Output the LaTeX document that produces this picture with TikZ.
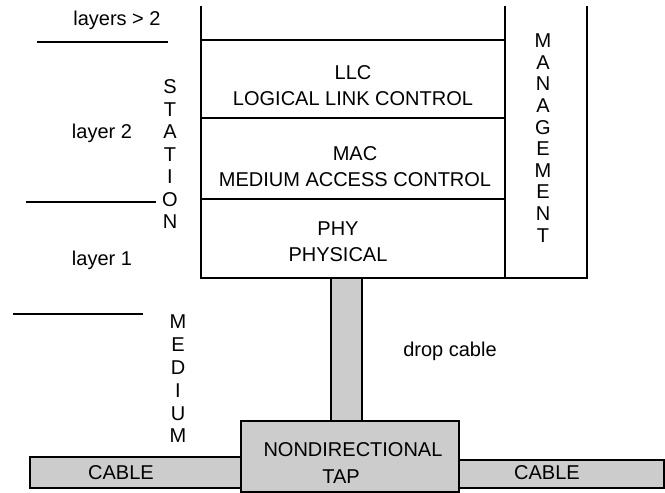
\documentclass[tikz,border=0pt]{standalone}
\usepackage{fontspec}
\setmainfont{Liberation Sans}
\definecolor{cablegray}{HTML}{CCCCCC}
\begin{document}
\begin{tikzpicture}[x=1pt,y=-1pt,
  every node/.style={inner sep=0pt, outer sep=0pt, font=\fontsize{20}{26}\selectfont},
  layerbox/.style={draw, line width=2pt, minimum width=304pt},
  ghost/.style={minimum width=#1},
  grayblock/.style={draw, line width=2pt, fill=cablegray},
  thick line/.style={line width=2.6pt},
  stacked/.style={align=center, font=\fontsize{20}{#1}\selectfont},
  lbl/.style={anchor=base}]
\useasboundingbox (0,0) rectangle (665,493);

% station stack
\node[layerbox, minimum height=78pt] (llc) at (353,79) {};
\node[layerbox, minimum height=81pt] (mac) at (353,158.5) {};
\node[layerbox, minimum height=79pt] (phy) at (353,238.5) {};
\node[minimum width=304pt, minimum height=34pt] (top) at (353,23) {};
\node[minimum width=82pt, minimum height=272pt] (mgmt) at (546,142) {};

\draw[thick line] (top.north west) -- (top.south west);
\draw[thick line] (top.north east) -- (top.south east);
\draw[thick line] (mgmt.north east) -- (mgmt.south east) -- (phy.south west);
\draw[line width=2pt] (llc.north west) -- (llc.north east);

\node[align=center] (llctext) at (353,86) {LLC\\LOGICAL LINK CONTROL};
\node[align=center] (mactext) at (355,167) {MAC\\MEDIUM ACCESS CONTROL};
\node[align=center] (phytext) at (338,241.5) {PHY\\PHYSICAL};

\node[stacked=21.6pt] (mgmttext) at (543,138) {M\\A\\N\\A\\G\\E\\M\\E\\N\\T};
\node[stacked=22.5pt] (station) at (170,154.5) {S\\T\\A\\T\\I\\O\\N};
\node[stacked=22.8pt] (medium) at (178,379) {M\\E\\D\\I\\U\\M};

% layer labels and separators
\node[lbl] (l3) at (117,25) {layers > 2};
\node[lbl] (l2) at (102,138) {layer 2};
\node[lbl] (l1) at (102,265) {layer 1};
\draw[thick line] (37,42) -- (168,42);
\draw[thick line] (26,202) -- (156,202);
\draw[thick line] (13,314) -- (143,314);

% medium
\node[grayblock, minimum width=31pt, minimum height=143pt] (drop) at (346.5,349.5) {};
\node[lbl] (droptext) at (450,356) {drop cable};
\node[grayblock, minimum width=211pt, minimum height=31pt] (cableL) at (135.5,472.5) {};
\node[grayblock, minimum width=205pt, minimum height=28pt] (cableR) at (561.5,474) {};
\node[grayblock, minimum width=218pt, minimum height=71pt] (tap) at (350,456.5) {};
\node (taptext1) at (353,450) {NONDIRECTIONAL};
\node (taptext2) at (341,477) {TAP};
\node (cabletextL) at (121,473) {CABLE};
\node (cabletextR) at (547,473) {CABLE};
\end{tikzpicture}
\end{document}
